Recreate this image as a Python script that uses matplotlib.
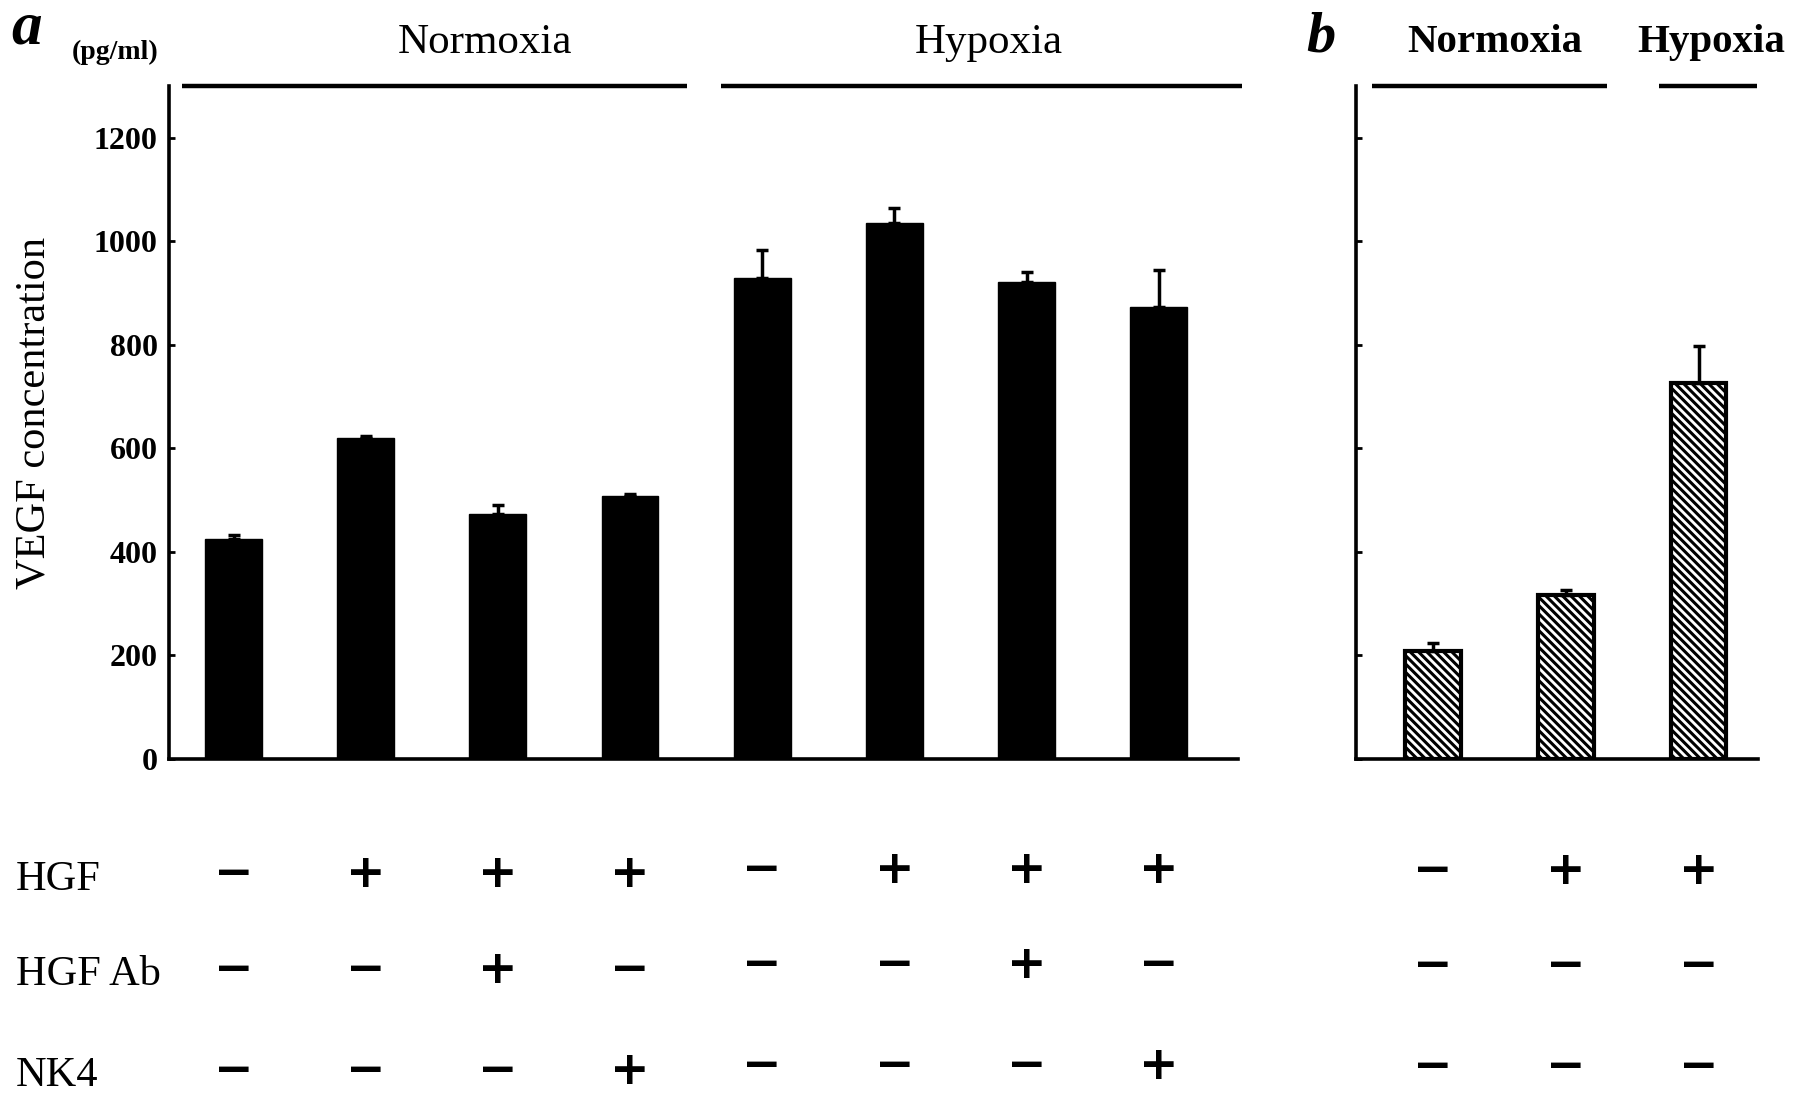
import numpy as np
import matplotlib
matplotlib.use("Agg")
import matplotlib.pyplot as plt
import matplotlib.transforms as mtransforms

# panel a data (pg/ml)
a_values = [424, 620, 473, 507, 929, 1036, 922, 873]
a_errors = [8, 4, 18, 4, 55, 28, 18, 71]
# panel b data
b_values = [209, 316, 727]
b_errors = [15, 10, 70]

# treatment table
row_names = ["HGF", "HGF Ab", "NK4"]
a_table = [
    ["−", "+", "+", "+", "−", "+", "+", "+"],
    ["−", "−", "+", "−", "−", "−", "+", "−"],
    ["−", "−", "−", "+", "−", "−", "−", "+"],
]
b_table = [
    ["−", "+", "+"],
    ["−", "−", "−"],
    ["−", "−", "−"],
]
y_ticks = [0, 200, 400, 600, 800, 1000, 1200]

serif = "Liberation Serif"
plt.rcParams["font.family"] = serif
plt.rcParams["hatch.linewidth"] = 2.2

W, H = 1563.0, 959.0  # layout measured on the reference at this scale
def fx(x):
    return x / W
def fy(y):
    return 1 - y / H

fig = plt.figure(figsize=(17.95, 11.01), dpi=100)

ax_a = fig.add_axes([fx(147), fy(661), fx(1078) - fx(147), fy(75) - fy(661)])
ax_b = fig.add_axes([fx(1181), fy(661), fx(1531) - fx(1181), fy(75) - fy(661)])

xa = np.arange(len(a_values))
ax_a.bar(xa, a_values, width=0.43, color="black", edgecolor="black")
ax_a.errorbar(xa, a_values, yerr=[np.zeros(len(a_errors)), a_errors], fmt="none",
              ecolor="black", elinewidth=2.5, capsize=4.5, capthick=2.5)
ax_a.set_xlim(-0.49, 7.6)

xb = np.arange(len(b_values))
ax_b.bar(xb, b_values, width=0.42, color="white", edgecolor="black",
         linewidth=3, hatch="\\\\\\\\")
ax_b.errorbar(xb, b_values, yerr=[np.zeros(len(b_errors)), b_errors], fmt="none",
              ecolor="black", elinewidth=2.5, capsize=4.5, capthick=2.5)
ax_b.set_xlim(-0.58, 2.45)

for ax in (ax_a, ax_b):
    ax.set_ylim(0, 1300)
    ax.set_yticks(y_ticks)
    for s in ("top", "right"):
        ax.spines[s].set_visible(False)
    for s in ("left", "bottom"):
        ax.spines[s].set_linewidth(2.6)
    ax.set_xticks([])
    ax.tick_params(axis="y", direction="in", length=4, width=2, pad=8)

ax_a.set_yticklabels([str(t) for t in y_ticks], fontsize=23, fontweight="bold")
ax_b.set_yticklabels([])

# group lines
ax_a.plot([-0.39, 3.43], [1300, 1300], color="black", lw=3.2, clip_on=False,
          solid_capstyle="butt")
ax_a.plot([3.69, 7.63], [1300, 1300], color="black", lw=3.2, clip_on=False,
          solid_capstyle="butt")
ax_b.plot([-0.46, 1.31], [1300, 1300], color="black", lw=3.2, clip_on=False,
          solid_capstyle="butt")
ax_b.plot([1.70, 2.44], [1300, 1300], color="black", lw=3.2, clip_on=False,
          solid_capstyle="butt")

# headers
fig.text(fx(422), fy(37), "Normoxia", ha="center", va="center", fontsize=31)
fig.text(fx(861), fy(37), "Hypoxia", ha="center", va="center", fontsize=31)
fig.text(fx(1302), fy(37), "Normoxia", ha="center", va="center", fontsize=29.5,
         fontweight="bold")
fig.text(fx(1490), fy(37), "Hypoxia", ha="center", va="center", fontsize=29.5,
         fontweight="bold")
fig.text(fx(10), fy(25), "a", ha="left", va="center", fontsize=44,
         fontweight="bold", fontstyle="italic")
fig.text(fx(1137), fy(33), "b", ha="left", va="center", fontsize=42,
         fontweight="bold", fontstyle="italic")
fig.text(fx(100), fy(46), "(pg/ml)", ha="center", va="center", fontsize=20,
         fontweight="bold")
fig.text(fx(30), fy(360), "VEGF concentration", ha="center", va="center",
         rotation=90, fontsize=30.5)

# treatment table
row_y = [762, 845, 933]
for name, yy in zip(row_names, row_y):
    fig.text(fx(14), fy(yy + 4), name, ha="left", va="center", fontsize=30.5)

tr_a = mtransforms.blended_transform_factory(ax_a.transData, fig.transFigure)
tr_b = mtransforms.blended_transform_factory(ax_b.transData, fig.transFigure)
for r, yy in enumerate(row_y):
    for i, s in enumerate(a_table[r]):
        dy = -4 if i >= 4 else 0
        ax_a.text(xa[i], fy(yy + dy), s, transform=tr_a, ha="center", va="center",
                  fontsize=34, fontweight="bold", family="DejaVu Sans")
    for i, s in enumerate(b_table[r]):
        ax_b.text(xb[i], fy(yy - 3), s, transform=tr_b, ha="center", va="center",
                  fontsize=34, fontweight="bold", family="DejaVu Sans")

fig.savefig("out.png", dpi=100)
